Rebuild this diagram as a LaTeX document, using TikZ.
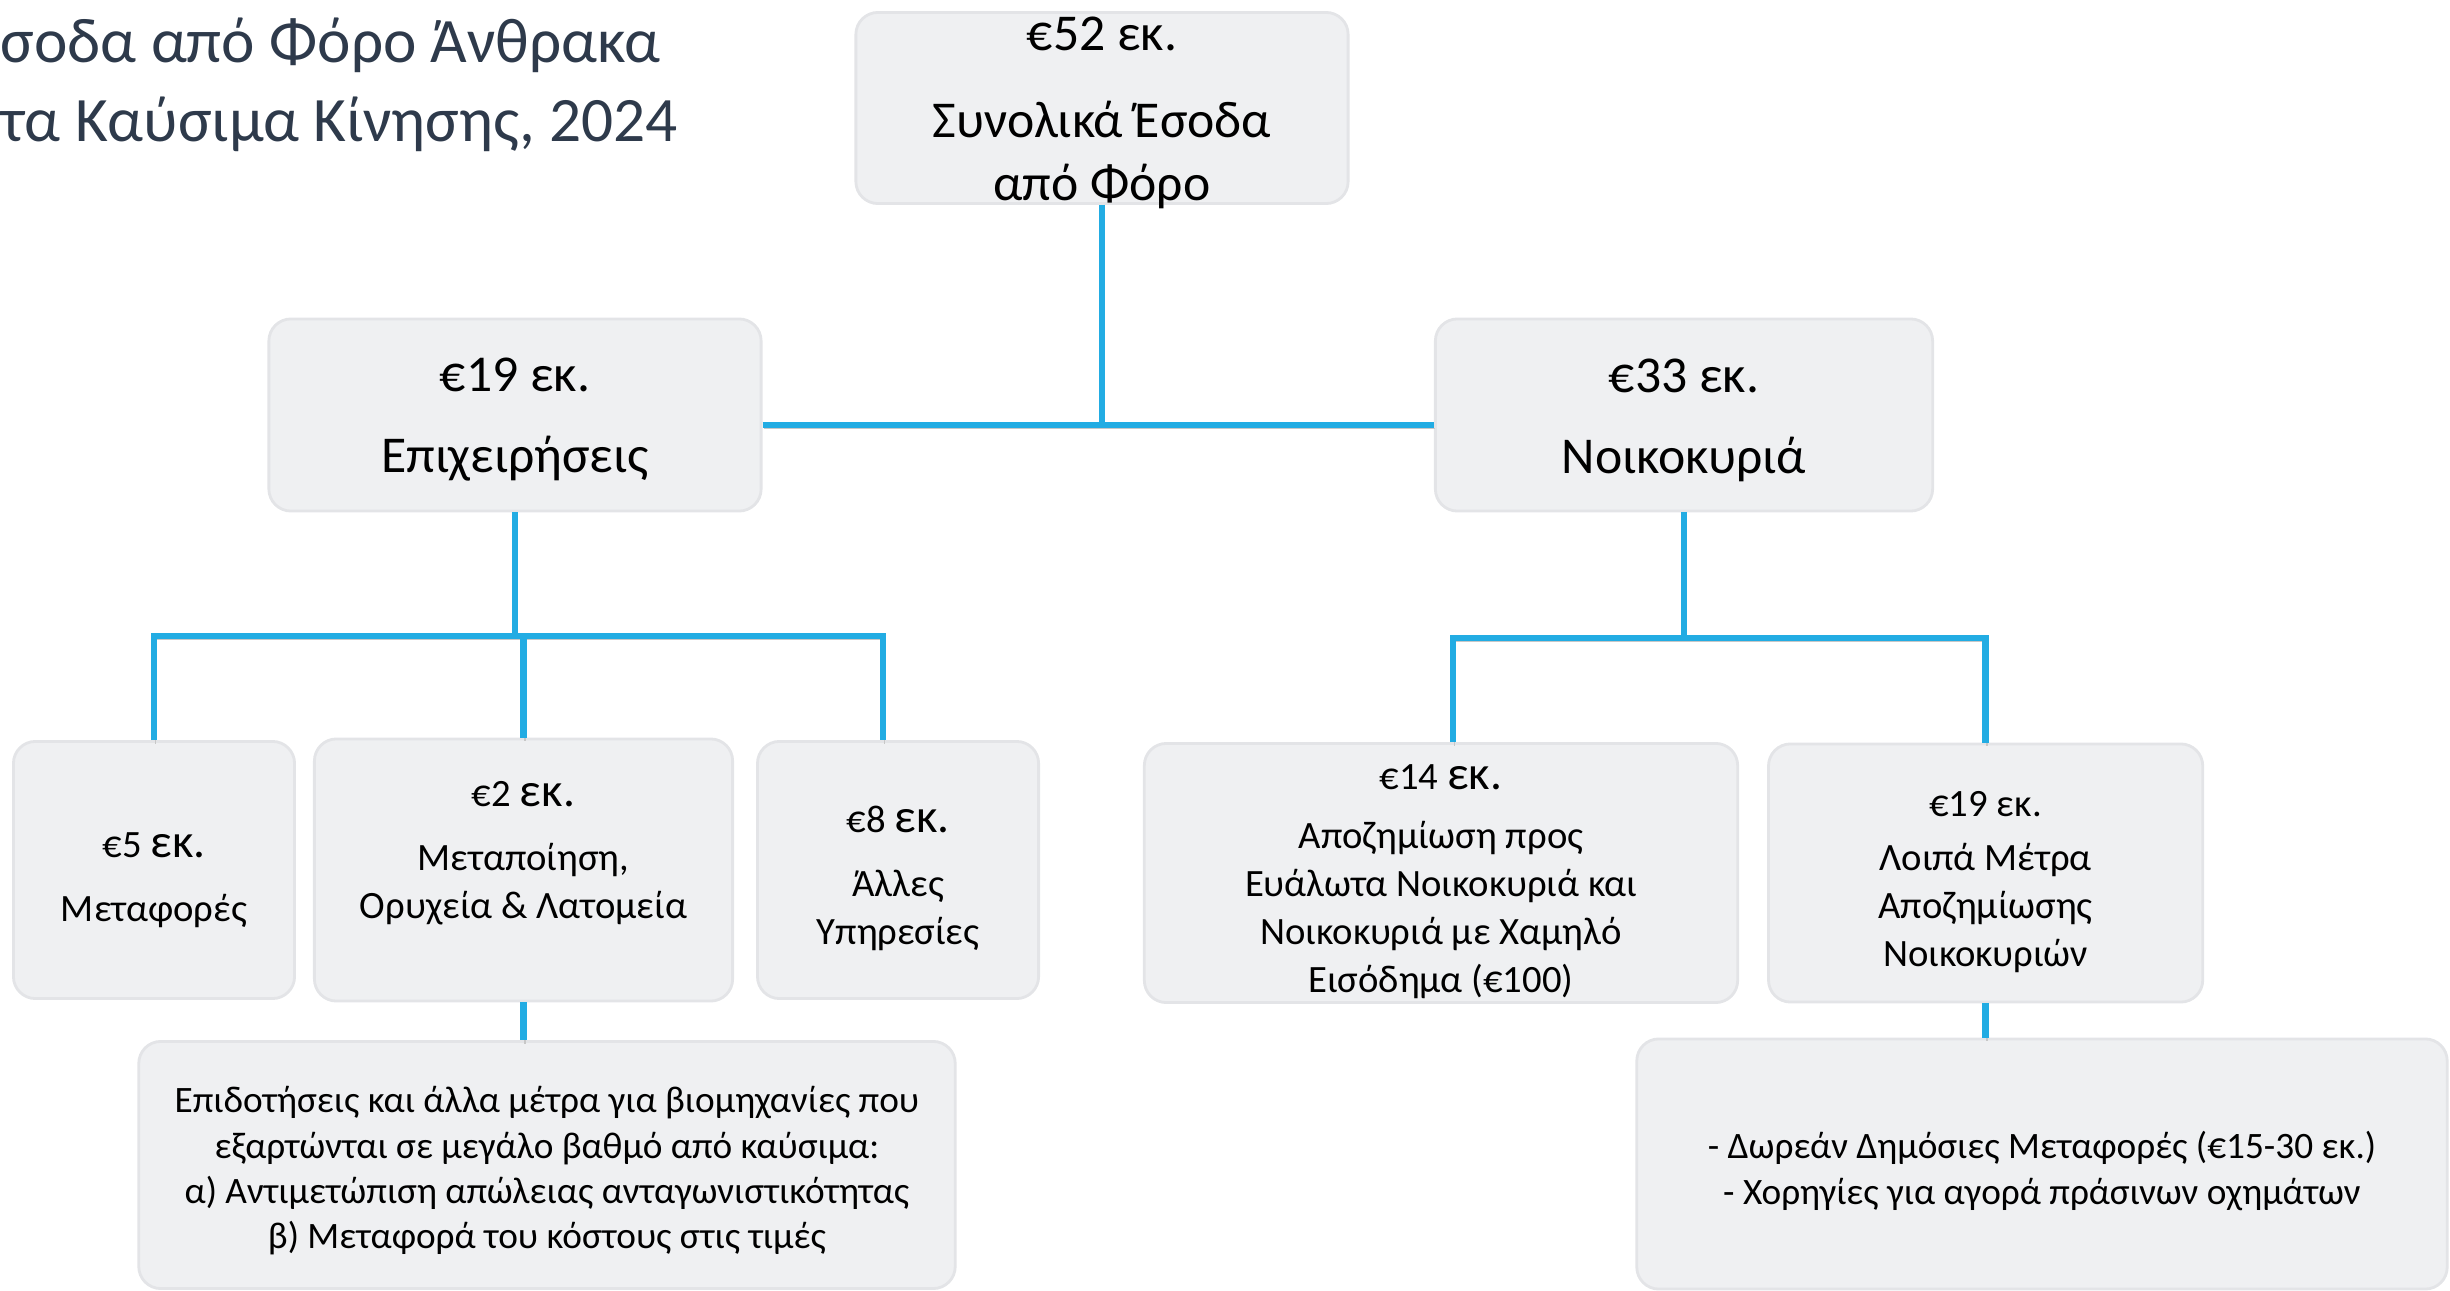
\documentclass[tikz,border=0pt]{standalone}
\usepackage{fontspec}
\setmainfont{Carlito}
\usetikzlibrary{positioning, calc}

\definecolor{boxfill}{HTML}{EFF0F2}
\definecolor{boxedge}{HTML}{E3E4E7}
\definecolor{linkblue}{HTML}{22ACE3}
\definecolor{titleink}{HTML}{2E3A4B}

\newcommand{\bigek}{{\fontsize{13.5}{13.5}\selectfont εκ.}}

\begin{document}
\begin{tikzpicture}[
  x=0.01cm, y=-0.01cm,
  box/.style={rectangle, rounded corners=0.22cm, fill=boxfill, draw=boxedge, line width=0.8pt, inner sep=0pt},
  boxtext/.style={align=center, inner sep=0pt},
  topfont/.style={font=\fontsize{14.7}{18}\selectfont},
  midfont/.style={font=\fontsize{11}{13.7}\selectfont},
  smallfont/.style={font=\fontsize{10.6}{12.9}\selectfont},
  link/.style={draw=linkblue, line width=0.065cm,
    preaction={draw=black!22, transform canvas={shift={(0.4pt,-1pt)}}}}
]
\useasboundingbox (0,0) rectangle (2450,1291);

\node (title) at (0,85) [anchor=west, align=left, inner sep=0pt, text=titleink, font=\fontsize{18}{22.5}\selectfont] {σοδα από Φόρο Άνθρακα\\τα Καύσιμα Κίνησης, 2024};

% boxes
\node (total) at (1102,108) [box, minimum width=4.92cm, minimum height=1.91cm] {};
\node (firms) at (515,415) [box, minimum width=4.92cm, minimum height=1.92cm] {};
\node (homes) at (1684,415) [box, minimum width=4.97cm, minimum height=1.92cm] {};

\node (transp) at (154,870) [box, minimum width=2.81cm, minimum height=2.57cm] {};
\node[right=0.17cm of transp, box, minimum width=4.18cm, minimum height=2.62cm] (manuf) {};
\node[right=0.22cm of manuf, box, minimum width=2.81cm, minimum height=2.57cm] (services) {};
\node (industry) at (547,1165) [box, minimum width=8.16cm, minimum height=2.47cm] {};

\node (vulner) at (1441,873) [box, minimum width=5.93cm, minimum height=2.59cm] {};
\node[right=0.28cm of vulner, box, minimum width=4.34cm, minimum height=2.58cm] (othercomp) {};
\node (measures) at (2042,1164) [box, minimum width=8.1cm, minimum height=2.5cm] {};

% texts
\node (totaltxt) at ($(total)+(0,5)$) [boxtext, topfont] {€52 εκ.\\[6.5pt]Συνολικά Έσοδα\\από Φόρο};
\node (firmstxt) at ($(firms)+(0,5)$) [boxtext, topfont] {€19 εκ.\\[5pt]Επιχειρήσεις};
\node (homestxt) at ($(homes)+(0,5)$) [boxtext, topfont] {€33 εκ.\\[5pt]Νοικοκυριά};

\node (transptxt) at ($(transp)+(0,10)$) [boxtext, midfont] {€5 \bigek\\[4.5pt]Μεταφορές};
\node (manuftxt) at ($(manuf)+(0,-17)$) [boxtext, midfont] {€2 \bigek\\[4.5pt]Μεταποίηση,\\Ορυχεία \& Λατομεία};
\node (servicestxt) at ($(services)+(0,8)$) [boxtext, midfont] {€8 \bigek\\[4.5pt]Άλλες\\Υπηρεσίες};
\node (industrytxt) at ($(industry)+(0,6)$) [boxtext, smallfont] {Επιδοτήσεις και άλλα μέτρα για βιομηχανίες που\\εξαρτώνται σε μεγάλο βαθμό από καύσιμα:\\α) Αντιμετώπιση απώλειας ανταγωνιστικότητας\\β) Μεταφορά του κόστους στις τιμές};

\node (vulnertxt) at ($(vulner)+(0,9)$) [boxtext, midfont] {€14 \bigek\\[3pt]Αποζημίωση προς\\Ευάλωτα Νοικοκυριά και\\Νοικοκυριά με Χαμηλό\\Εισόδημα (€100)};
\node (othercomptxt) at ($(othercomp)+(0,9)$) [boxtext, midfont] {€19 εκ.\\[1.7pt]Λοιπά Μέτρα\\Αποζημίωσης\\Νοικοκυριών};
\node (measurestxt) at ($(measures)+(0,7)$) [boxtext, smallfont] {- Δωρεάν Δημόσιες Μεταφορές (€15-30 εκ.)\\- Χορηγίες για αγορά πράσινων οχημάτων};

\coordinate (hub) at (1102,425);
\coordinate (lbus) at (516,636);
\coordinate (rbus) at (1688,638);
\coordinate (servin) at ($(services.north)+(-15,0)$);
\coordinate (vulnin) at ($(vulner.north)+(12,0)$);

\draw[link] (total.south) -- (hub);
\draw[link] (firms.east |- hub) -- (homes.west |- hub);

\draw[link] (firms.south) -- (firms.south |- lbus);
\draw[link] (transp.north) -- (transp.north |- lbus) -- (servin |- lbus) -- (servin);
\draw[link] (manuf.north |- lbus) -- (manuf.north);
\draw[link] (manuf.south) -- (manuf.south |- industry.north);

\draw[link] (homes.south) -- (homes.south |- rbus);
\draw[link] (vulnin) -- (vulnin |- rbus) -- (othercomp.north |- rbus) -- (othercomp.north);
\draw[link] (othercomp.south) -- (othercomp.south |- measures.north);

\end{tikzpicture}
\end{document}
